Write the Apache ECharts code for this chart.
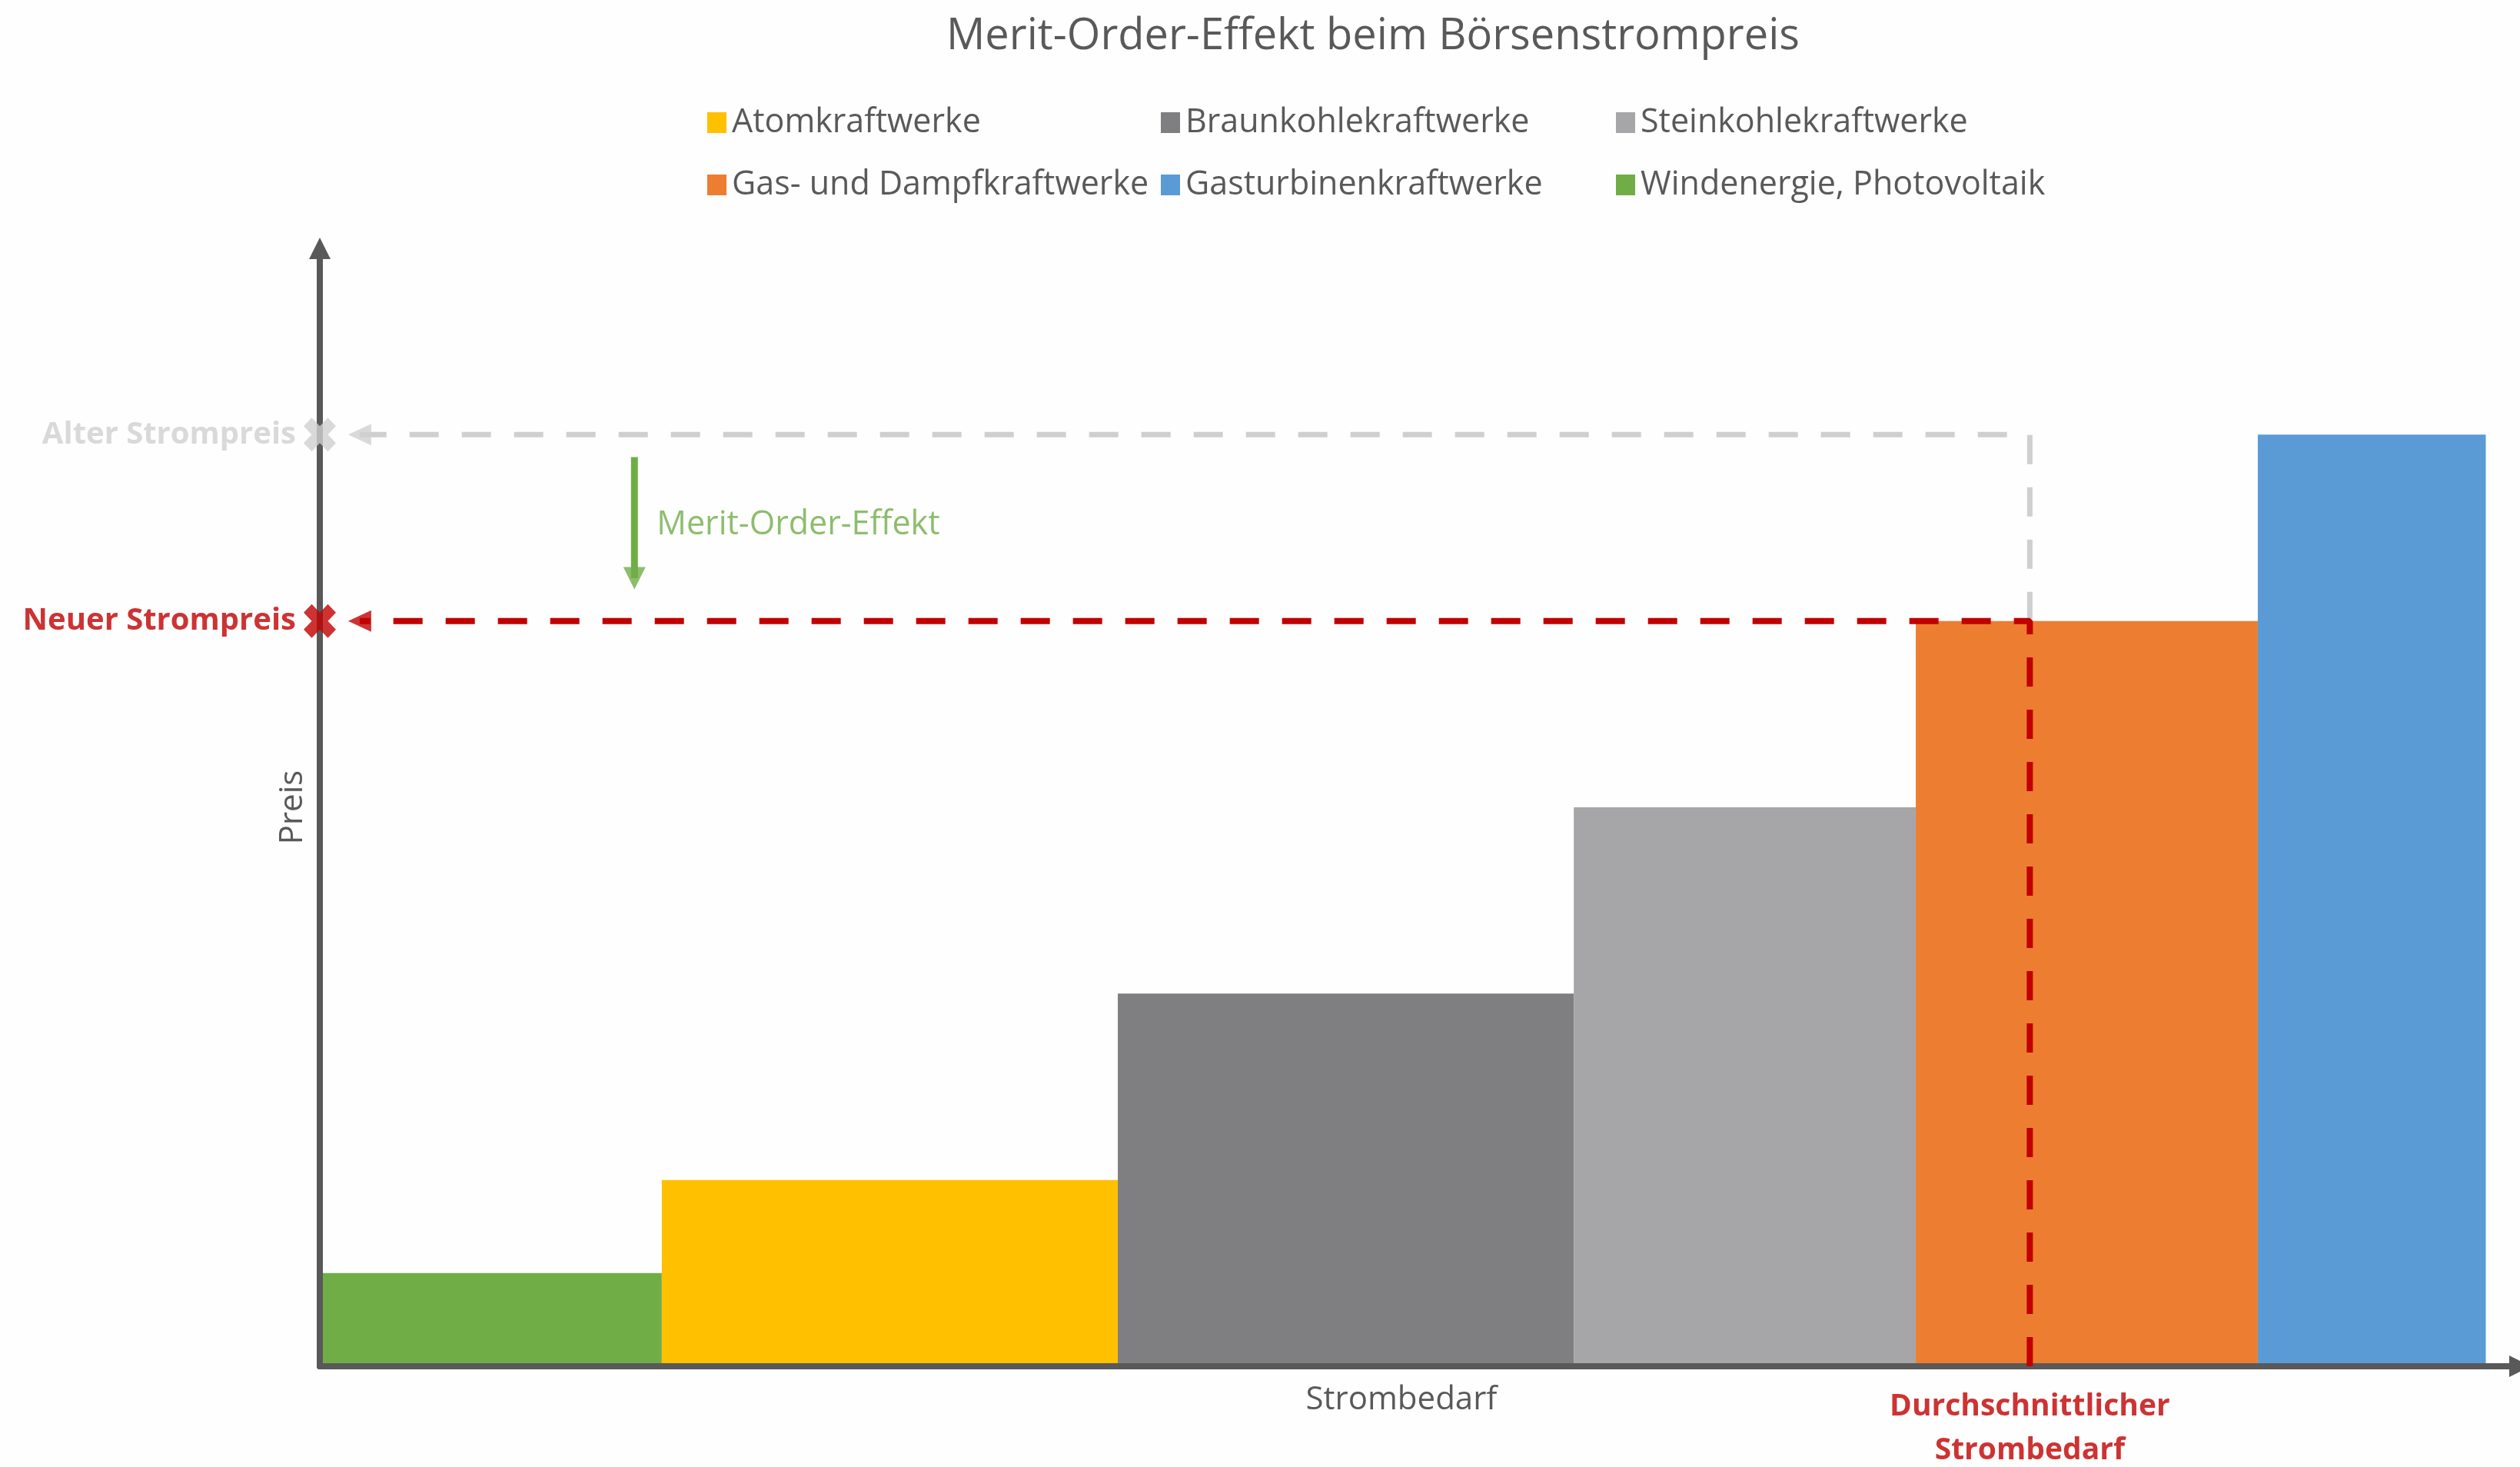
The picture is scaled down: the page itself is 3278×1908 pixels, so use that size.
<!DOCTYPE html>
<html>
<head>
<meta charset="utf-8">
<title>Merit-Order-Effekt beim Börsenstrompreis</title>
<script src="https://cdn.jsdelivr.net/npm/echarts@6/dist/echarts.min.js"></script>
<style>
  html, body { margin: 0; padding: 0; background: #fefefe; }
  #chart { width: 3278px; height: 1908px; }
</style>
</head>
<body>
<div id="chart"></div>
<script>
// Kraftwerkstypen in der Reihenfolge der Merit-Order (günstigste Grenzkosten zuerst)
const kraftwerke = [
  'Windenergie, Photovoltaik',
  'Atomkraftwerke',
  'Braunkohlekraftwerke',
  'Steinkohlekraftwerke',
  'Gas- und Dampfkraftwerke',
  'Gasturbinenkraftwerke'
];
// Verfügbare Leistung je Kraftwerkstyp (Breite des Blocks auf der Strombedarf-Achse)
const leistung = [3, 4, 4, 3, 3, 2];
// Grenzkosten je Kraftwerkstyp (Höhe des Blocks auf der Preis-Achse)
const grenzkosten = [1, 2, 4, 6, 8, 10];

// Legende in drei Spalten mit je zwei Einträgen
const legendenSpalten = [
  ['Atomkraftwerke', 'Gas- und Dampfkraftwerke'],
  ['Braunkohlekraftwerke', 'Gasturbinenkraftwerke'],
  ['Steinkohlekraftwerke', 'Windenergie, Photovoltaik']
];

// Durchschnittlicher Strombedarf und die daraus folgenden Preise
const durchschnittlicherBedarf = 15;
const alterStrompreis = 10;
const neuerStrompreis = 8;

// Achsenbereiche
const bedarfMax = 19.3;
const preisMax = 12;

// Pfeilspitzen der Preislinien kurz vor der Preis-Achse
const pfeilspitzeBedarf = 0.35;
// Pfeil "Merit-Order-Effekt": Lage auf der Bedarf-Achse, Schaftanfang, Mitte der Spitze, Beschriftung
const effektBedarf = 2.76;
const effektVon = 9.76;
const effektSpitze = 8.46;
const effektText = 9.03;

// Farben der Kraftwerkstypen
const farbe = {
  'Windenergie, Photovoltaik': '#70ad47',
  'Atomkraftwerke': '#ffc000',
  'Braunkohlekraftwerke': '#7f7e80',
  'Steinkohlekraftwerke': '#a6a5a7',
  'Gas- und Dampfkraftwerke': '#ed7d31',
  'Gasturbinenkraftwerke': '#5b9bd5'
};

const textGrau = '#595959';
const rot = '#c00000';
const hellgrau = '#cfcfcf';
const schrift = '"Open Sans", "Noto Sans", sans-serif';
const kreuz = 'path://M0,2.5L2.5,0L5,2.5L7.5,0L10,2.5L7.5,5L10,7.5L7.5,10L5,7.5L2.5,10L0,7.5L2.5,5Z';

// Kumulierte Leistung: Beginn und Ende jedes Blocks
const bloecke = [];
let summe = 0;
kraftwerke.forEach((name, i) => {
  bloecke.push({ name, von: summe, bis: summe + leistung[i], preis: grenzkosten[i] });
  summe += leistung[i];
});

// Jeder Kraftwerkstyp als eigener Block (eigene Serie für die Legende)
const blockSerien = bloecke.map(b => ({
  type: 'custom',
  name: b.name,
  coordinateSystem: 'cartesian2d',
  itemStyle: { color: farbe[b.name] },
  encode: { x: [0, 1], y: 2 },
  data: [[b.von, b.bis, b.preis]],
  silent: true,
  z: 2,
  renderItem: (params, api) => {
    const oben = api.coord([api.value(0), api.value(2)]);
    const unten = api.coord([api.value(1), 0]);
    return {
      type: 'rect',
      shape: { x: oben[0], y: oben[1], width: unten[0] - oben[0], height: unten[1] - oben[1] },
      style: { fill: api.visual('color') }
    };
  }
}));

const gestrichelt = [38, 30];

const option = {
  backgroundColor: '#fefefe',
  animation: false,
  textStyle: { fontFamily: schrift },
  title: {
    text: 'Merit-Order-Effekt beim Börsenstrompreis',
    left: 1231,
    top: 20,
    padding: 0,
    textStyle: { fontFamily: schrift, fontSize: 56, fontWeight: 'normal', color: textGrau }
  },
  legend: legendenSpalten.map((spalte, i) => ({
    data: spalte,
    orient: 'vertical',
    left: [920, 1510, 2102][i],
    top: 138,
    padding: 0,
    itemGap: 38,
    itemWidth: 25,
    itemHeight: 27,
    icon: 'rect',
    selectedMode: false,
    textStyle: { fontFamily: schrift, fontSize: 43, color: textGrau, padding: [0, 0, 0, 2] }
  })),
  grid: { left: 416, right: 0, top: 323, bottom: 131 },
  xAxis: {
    type: 'value',
    min: 0,
    max: bedarfMax,
    name: 'Strombedarf',
    nameLocation: 'middle',
    nameGap: 23,
    nameTextStyle: { fontFamily: schrift, fontSize: 42, color: textGrau, padding: [0, 48, 0, 0] },
    axisLine: { lineStyle: { color: textGrau, width: 8 }, symbol: ['none', 'triangle'], symbolSize: [28, 28] },
    axisTick: { show: false },
    axisLabel: { show: false },
    splitLine: { show: false },
    z: 3
  },
  yAxis: {
    type: 'value',
    min: 0,
    max: preisMax,
    name: 'Preis',
    nameLocation: 'middle',
    nameGap: 14,
    nameTextStyle: { fontFamily: schrift, fontSize: 42, color: textGrau },
    axisLine: { lineStyle: { color: textGrau, width: 8 }, symbol: ['none', 'triangle'], symbolSize: [28, 28] },
    axisTick: { show: false },
    axisLabel: { show: false },
    splitLine: { show: false },
    z: 3
  },
  series: [
    ...blockSerien,
    // Alter Strompreis: vom Bedarf über den alten Preis zurück zur Preis-Achse
    {
      type: 'line',
      name: 'Alter Strompreis',
      data: [
        [durchschnittlicherBedarf, neuerStrompreis],
        [durchschnittlicherBedarf, alterStrompreis],
        [pfeilspitzeBedarf, alterStrompreis]
      ],
      symbol: 'none',
      silent: true,
      lineStyle: { color: hellgrau, width: 7, type: gestrichelt, cap: 'butt' },
      z: 4
    },
    // Neuer Strompreis: von der Bedarf-Achse hoch und zur Preis-Achse
    {
      type: 'line',
      name: 'Neuer Strompreis',
      data: [
        [durchschnittlicherBedarf, 0],
        [durchschnittlicherBedarf, neuerStrompreis],
        [pfeilspitzeBedarf, neuerStrompreis]
      ],
      symbol: 'none',
      silent: true,
      lineStyle: { color: rot, width: 8, type: gestrichelt, cap: 'butt' },
      z: 4
    },
    // Pfeilspitzen der beiden Preislinien
    {
      type: 'scatter',
      name: 'Pfeilspitzen',
      silent: true,
      symbol: 'triangle',
      symbolRotate: 90,
      symbolSize: [28, 30],
      data: [
        { value: [pfeilspitzeBedarf, alterStrompreis], itemStyle: { color: hellgrau } },
        { value: [pfeilspitzeBedarf, neuerStrompreis], itemStyle: { color: rot } }
      ],
      z: 5
    },
    // Markierungen der Preise auf der Preis-Achse
    {
      type: 'scatter',
      name: 'Preismarken',
      silent: true,
      symbol: kreuz,
      symbolSize: [42, 44],
      data: [
        {
          value: [0, alterStrompreis],
          itemStyle: { color: hellgrau },
          label: { formatter: 'Alter Strompreis', color: hellgrau }
        },
        {
          value: [0, neuerStrompreis],
          itemStyle: { color: rot },
          label: { formatter: 'Neuer Strompreis', color: rot }
        }
      ],
      label: {
        show: true,
        position: 'left',
        distance: 10,
        fontFamily: schrift,
        fontSize: 40,
        fontWeight: 'bold'
      },
      z: 6
    },
    // Pfeil für den Merit-Order-Effekt
    {
      type: 'line',
      name: 'Merit-Order-Effekt',
      data: [[effektBedarf, effektVon], [effektBedarf, effektSpitze]],
      symbol: 'none',
      silent: true,
      lineStyle: { color: farbe['Windenergie, Photovoltaik'], width: 9, cap: 'butt' },
      z: 4
    },
    {
      type: 'scatter',
      name: 'Merit-Order-Effekt Spitze',
      silent: true,
      symbol: 'triangle',
      symbolRotate: 180,
      symbolSize: [29, 29],
      itemStyle: { color: farbe['Windenergie, Photovoltaik'] },
      data: [[effektBedarf, effektSpitze]],
      z: 5
    },
    {
      type: 'scatter',
      name: 'Merit-Order-Effekt Text',
      silent: true,
      symbolSize: 0,
      data: [[effektBedarf, effektText]],
      label: {
        show: true,
        position: 'right',
        distance: 29,
        formatter: 'Merit-Order-Effekt',
        fontFamily: schrift,
        fontSize: 43,
        color: farbe['Windenergie, Photovoltaik']
      },
      z: 5
    },
    // Beschriftung des durchschnittlichen Strombedarfs unter der Bedarf-Achse
    {
      type: 'scatter',
      name: 'Durchschnittlicher Strombedarf',
      silent: true,
      symbolSize: 0,
      data: [[durchschnittlicherBedarf, 0]],
      label: {
        show: true,
        position: 'bottom',
        distance: 24,
        formatter: 'Durchschnittlicher\nStrombedarf',
        align: 'center',
        lineHeight: 57,
        fontFamily: schrift,
        fontSize: 39,
        fontWeight: 'bold',
        color: rot
      },
      z: 5
    }
  ]
};

const chart = echarts.init(document.getElementById('chart'));
chart.setOption(option);
</script>
</body>
</html>
